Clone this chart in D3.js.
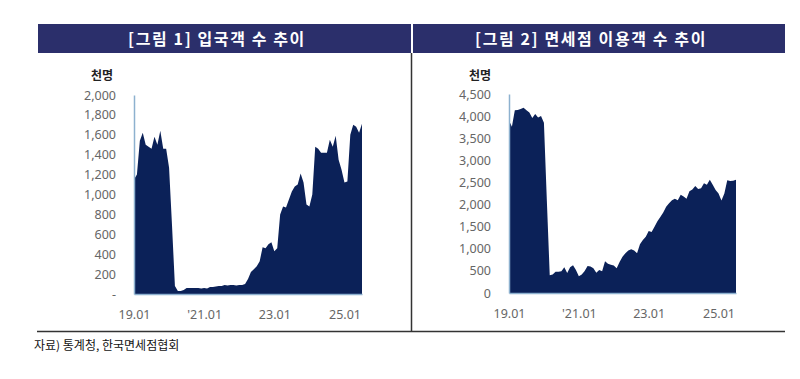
<!DOCTYPE html>
<html><head><meta charset="utf-8">
<script src="https://cdn.jsdelivr.net/npm/d3@7"></script>
<style>
html,body{margin:0;padding:0;background:#fff;}
svg{display:block;}
text{font-family:"Noto Sans CJK KR","Noto Sans",sans-serif;}
</style></head>
<body>
<svg id="c" width="800" height="379"></svg>
<script>
const months = [
 "19.01","19.02","19.03","19.04","19.05","19.06","19.07","19.08","19.09","19.10","19.11","19.12",
 "20.01","20.02","20.03","20.04","20.05","20.06","20.07","20.08","20.09","20.10","20.11","20.12",
 "21.01","21.02","21.03","21.04","21.05","21.06","21.07","21.08","21.09","21.10","21.11","21.12",
 "22.01","22.02","22.03","22.04","22.05","22.06","22.07","22.08","22.09","22.10","22.11","22.12",
 "23.01","23.02","23.03","23.04","23.05","23.06","23.07","23.08","23.09","23.10","23.11","23.12",
 "24.01","24.02","24.03","24.04","24.05","24.06","24.07","24.08","24.09","24.10","24.11","24.12",
 "25.01","25.02","25.03","25.04","25.05","25.06","25.07"
];
const xTicks = ["19.01","21.01","23.01","25.01"];
const xTickLabels = ["19.01","'21.01","23.01","25.01"];

// [그림 1] 입국객 수 (천명)
const arrivals = [
 1150,1200,1540,1620,1500,1480,1460,1580,1500,1640,1460,1460,
 1270,690,80,30,30,40,60,60,60,60,60,55,
 60,55,70,70,75,80,80,90,85,90,90,85,
 90,90,100,150,220,250,280,330,470,460,500,520,
 430,460,800,880,870,950,1030,1080,1100,1210,1120,900,
 880,1000,1480,1460,1420,1420,1420,1550,1480,1590,1350,1250,
 1120,1130,1600,1700,1680,1620,1710
];
// [그림 2] 면세점 이용객 수 (천명)
const dutyFree = [
 3900,3760,4130,4140,4160,4190,4130,4080,3960,4050,3970,4000,
 3850,2100,400,420,480,480,490,580,450,580,630,520,
 380,420,500,610,600,560,460,520,490,720,660,640,
 620,560,700,820,900,960,990,960,900,1100,1200,1270,
 1400,1380,1500,1620,1720,1820,1950,2030,2100,2130,2100,2220,
 2180,2130,2300,2340,2420,2350,2370,2480,2450,2560,2450,2330,
 2250,2090,2250,2550,2530,2540,2560
];
const yTicks1 = [0,200,400,600,800,1000,1200,1400,1600,1800,2000];
const yTicks2 = [0,500,1000,1500,2000,2500,3000,3500,4000,4500];
const titles = ["[그림 1] 입국객 수 추이","[그림 2] 면세점 이용객 수 추이"];
const unitLabel = "천명";
const sourceText = "자료) 통계청, 한국면세점협회";

const svg = d3.select("#c");
const HEAD = "#2b2f6b", FILL = "#0b2158", AXIS = "#8db1cf", TXT = "#666";

// header bands
svg.append("rect").attr("x",38).attr("y",24).attr("width",373).attr("height",29).attr("fill",HEAD);
svg.append("rect").attr("x",413).attr("y",24).attr("width",372).attr("height",29).attr("fill",HEAD);
svg.append("text").attr("x",217).attr("y",44.5).attr("text-anchor","middle").attr("fill","#fff")
  .attr("font-size",16).attr("letter-spacing","1.6px").attr("font-weight","bold").text(titles[0]);
svg.append("text").attr("x",591).attr("y",44.5).attr("text-anchor","middle").attr("fill","#fff")
  .attr("font-size",16).attr("letter-spacing","1.6px").attr("font-weight","bold").text(titles[1]);

// divider & bottom rule
svg.append("line").attr("x1",411.5).attr("x2",411.5).attr("y1",53).attr("y2",331).attr("stroke","#333").attr("stroke-width",1.5);
svg.append("line").attr("x1",37).attr("x2",785).attr("y1",331.5).attr("y2",331.5).attr("stroke","#333").attr("stroke-width",1.5);
svg.append("text").attr("x",34).attr("y",350).attr("font-size",12).attr("fill","#111").text(sourceText);

function panel(data, x0, x1, yBottom, yTop, ymax, ticks, fmt, unitX){
  const x = d3.scalePoint().domain(months).range([x0,x1]);
  const y = d3.scaleLinear().domain([0,ymax]).range([yBottom,yTop]);
  const area = d3.area().x((d,i)=>x(months[i])).y0(y(0)).y1(d=>y(d));
  svg.append("path").datum(data).attr("d",area).attr("fill",FILL);

  const ya = svg.append("g").attr("transform",`translate(${x0},0)`)
    .call(d3.axisLeft(y).tickValues(ticks).tickSize(0).tickPadding(18).tickFormat(fmt));
  ya.select(".domain").attr("stroke",AXIS).attr("stroke-width",1.5);
  ya.selectAll("text").attr("fill",TXT).attr("font-size",12.5).style("font-family","'Noto Sans',sans-serif");

  const xa = svg.append("g").attr("transform",`translate(0,${yBottom})`)
    .call(d3.axisBottom(x).tickValues(xTicks).tickSize(0).tickPadding(16)
      .tickFormat(d=>xTickLabels[xTicks.indexOf(d)]));
  xa.select(".domain").attr("stroke",AXIS).attr("stroke-width",1.5);
  xa.selectAll("text").attr("fill",TXT).attr("font-size",12.5).style("font-family","'Noto Sans',sans-serif");

  svg.append("text").attr("x",unitX).attr("y",80).attr("text-anchor","end")
    .attr("font-size",12).attr("font-weight","bold").attr("fill","#222").text(unitLabel);
}
panel(arrivals, 134, 362, 294, 95, 2000, yTicks1, d=> d===0 ? "-" : d3.format(",")(d), 113);
panel(dutyFree, 509, 736, 293, 94, 4500, yTicks2, d=> d3.format(",")(d), 491);
</script>
</body></html>
